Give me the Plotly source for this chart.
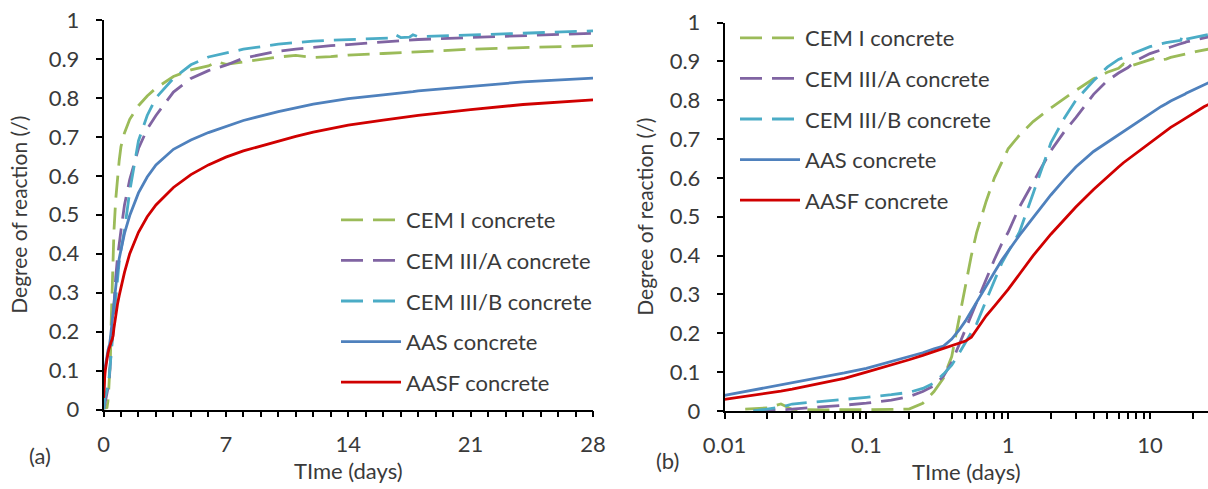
import plotly.graph_objects as go

# time in days
t = [0.01, 0.014, 0.016, 0.02, 0.025, 0.03, 0.05, 0.07, 0.1, 0.15, 0.2, 0.25, 0.3,
     0.35, 0.4, 0.45, 0.5, 0.55, 0.6, 0.7, 0.8, 0.9, 1.0, 1.2, 1.5, 2.0, 2.5, 3.0,
     4.0, 5.0, 6.0, 6.5, 7.0, 8.0, 10.0, 11.0, 12.0, 13.0, 14.0, 16.0, 16.5, 16.7,
     17.0, 17.5, 17.7, 18.0, 21.0, 24.0, 28.0]

cem1 = [None, 0.005, 0.006, 0.008, 0.018, 0.004, 0.003, 0.003, 0.003, 0.004, 0.005, 0.02, 0.05,
        0.085, 0.14, 0.24, 0.32, 0.40, 0.46, 0.54, 0.60, 0.64, 0.675, 0.71, 0.745, 0.78, 0.805, 0.825,
        0.855, 0.872, 0.882, 0.893, 0.886, 0.893, 0.905, 0.909, 0.904, 0.906, 0.91, 0.914, 0.915, 0.915,
        0.916, 0.917, 0.918, 0.919, 0.925, 0.929, 0.934]

cem3a = [None, None, 0.0, 0.001, 0.003, 0.005, 0.01, 0.015, 0.02, 0.028, 0.037, 0.05, 0.065,
         0.09, 0.125, 0.17, 0.21, 0.245, 0.28, 0.34, 0.39, 0.43, 0.46, 0.525, 0.59, 0.67, 0.72, 0.755,
         0.815, 0.85, 0.87, 0.877, 0.884, 0.902, 0.92, 0.925, 0.93, 0.934, 0.937, 0.944, 0.945, 0.946,
         0.947, 0.948, 0.949, 0.95, 0.955, 0.96, 0.966]

cem3b = [None, None, 0.0, 0.005, 0.010, 0.018, 0.025, 0.03, 0.035, 0.042, 0.048, 0.058, 0.072,
         0.095, 0.118, 0.148, 0.177, 0.2, 0.225, 0.285, 0.335, 0.38, 0.41, 0.46, 0.56, 0.69, 0.755, 0.80,
         0.85, 0.885, 0.905, 0.91, 0.915, 0.925, 0.938, 0.942, 0.946, 0.948, 0.95, 0.953, 0.954, 0.962,
         0.955, 0.956, 0.962, 0.957, 0.962, 0.967, 0.972]

aas = [0.040, 0.050, 0.054, 0.060, 0.067, 0.073, 0.088, 0.098, 0.110, 0.127, 0.140, 0.150, 0.160,
       0.167, 0.185, 0.208, 0.232, 0.258, 0.28, 0.32, 0.357, 0.388, 0.412, 0.452, 0.498, 0.556, 0.597, 0.628,
       0.668, 0.692, 0.711, 0.719, 0.727, 0.742, 0.765, 0.775, 0.784, 0.791, 0.798, 0.808, 0.81, 0.811,
       0.813, 0.815, 0.816, 0.818, 0.83, 0.841, 0.851]

aasf = [0.030, 0.037, 0.040, 0.045, 0.051, 0.056, 0.072, 0.084, 0.100, 0.118, 0.132, 0.143, 0.153,
        0.162, 0.169, 0.175, 0.180, 0.19, 0.21, 0.245, 0.27, 0.293, 0.313, 0.352, 0.40, 0.455, 0.495, 0.525,
        0.57, 0.603, 0.628, 0.639, 0.648, 0.664, 0.69, 0.701, 0.712, 0.721, 0.73, 0.743, 0.746, 0.747,
        0.749, 0.751, 0.753, 0.755, 0.77, 0.783, 0.795]

names = ["CEM I concrete", "CEM III/A concrete", "CEM III/B concrete", "AAS concrete", "AASF concrete"]
series = [cem1, cem3a, cem3b, aas, aasf]
colors = ["#9BBB59", "#8064A2", "#4BACC6", "#4F81BD", "#D00000"]
dashes = ["22px,10px", "22px,10px", "22px,10px", "solid", "solid"]

left_ticks = [0, 7, 14, 21, 28]
right_ticks = [0.01, 0.1, 1, 10]
right_tick_text = ["0.01", "0.1", "1", "10"]

FONT = "Lato"
TXT = "#3a3a3a"
W, H = 1208, 489

fig = go.Figure()
for i, (nm, ys, c, d) in enumerate(zip(names, series, colors, dashes)):
    for panel in (1, 2):
        fig.add_trace(go.Scatter(
            x=t, y=ys, mode="lines", name=nm,
            line=dict(color=c, width=2.8, dash=d),
            xaxis="x" if panel == 1 else "x2",
            yaxis="y" if panel == 1 else "y2",
            legend="legend" if panel == 1 else "legend2",
            legendgroup=f"g{i}_{panel}",
            showlegend=True,
        ))

axis_common = dict(
    showgrid=False, zeroline=False, showline=True, linecolor="black", linewidth=1.5,
    ticks="outside", ticklen=6, tickwidth=1.5, tickcolor="black", automargin=False,
    tickfont=dict(family=FONT, size=22, color=TXT),
)

minor_log = [k * 10.0 ** e for e in range(-2, 2) for k in range(2, 10)]

fig.update_layout(
    width=W, height=H, autosize=False,
    margin=dict(l=0, r=0, t=0, b=0),
    paper_bgcolor="white", plot_bgcolor="white",
    font=dict(family=FONT, size=22, color=TXT),
    xaxis=dict(axis_common, domain=[103.5 / W, 593 / W], range=[0, 28], anchor="y",
               tickmode="array", tickvals=left_ticks, ticklabelstandoff=8,
               minor=dict(dtick=1, tick0=0, ticks="outside", ticklen=6, tickwidth=1.5, tickcolor="black"),
               title=dict(text="TIme (days)", font=dict(family=FONT, size=22, color=TXT), standoff=6)),
    yaxis=dict(axis_common, domain=[(H - 409.5) / H, (H - 20) / H], range=[0, 1], anchor="x",
               dtick=0.1, tick0=0, ticklabelstandoff=12,
               title=dict(text="Degree of reaction (/)", font=dict(family=FONT, size=21, color=TXT), standoff=15)),
    xaxis2=dict(axis_common, type="log", domain=[724.5 / W, 1.0], range=[-2, 1.409], anchor="y2",
                tickmode="array", tickvals=right_ticks, ticktext=right_tick_text, ticklabelstandoff=8,
                minor=dict(tickmode="array", tickvals=minor_log, ticks="outside", ticklen=6,
                           tickwidth=1.5, tickcolor="black"),
                title=dict(text="TIme (days)", font=dict(family=FONT, size=22, color=TXT), standoff=6)),
    yaxis2=dict(axis_common, domain=[(H - 411) / H, (H - 22.5) / H], range=[0, 1], anchor="x2",
                dtick=0.1, tick0=0, ticklabelstandoff=12,
                title=dict(text="Degree of reaction (/)", font=dict(family=FONT, size=21, color=TXT), standoff=10)),
    legend=dict(x=336 / W, y=(H - 199) / H, xanchor="left", yanchor="top",
                bgcolor="rgba(0,0,0,0)", font=dict(family=FONT, size=22, color=TXT),
                itemwidth=60, tracegroupgap=9, itemclick=False),
    legend2=dict(x=735 / W, y=(H - 17) / H, xanchor="left", yanchor="top",
                 bgcolor="rgba(0,0,0,0)", font=dict(family=FONT, size=22, color=TXT),
                 itemwidth=60, tracegroupgap=9, itemclick=False),
    annotations=[
        dict(text="(a)", x=40 / W, y=(H - 455) / H, xref="paper", yref="paper", showarrow=False,
             xanchor="center", yanchor="middle", font=dict(family=FONT, size=22, color=TXT)),
        dict(text="(b)", x=667 / W, y=(H - 460) / H, xref="paper", yref="paper", showarrow=False,
             xanchor="center", yanchor="middle", font=dict(family=FONT, size=22, color=TXT)),
    ],
)

fig.write_html("out.html", config={"displayModeBar": False},
               post_script="document.body.style.margin='0px';")
